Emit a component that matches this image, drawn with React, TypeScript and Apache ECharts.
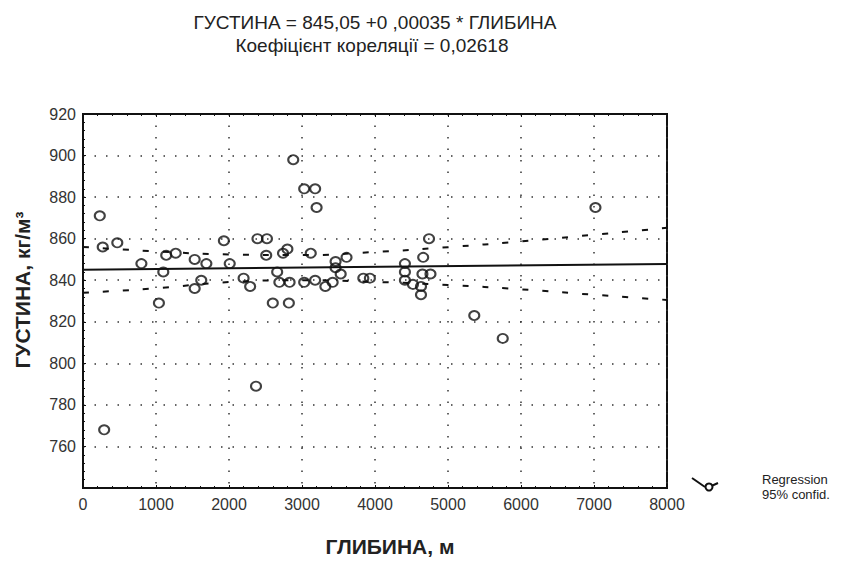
import React, { useEffect, useRef } from "react";
import * as echarts from "echarts";

const titleLine1 = "ГУСТИНА = 845,05 +0 ,00035 * ГЛИБИНА";
const titleLine2 = "Коефіцієнт кореляції = 0,02618";
const xAxisTitle = "ГЛИБИНА, м";
const yAxisTitle = "ГУСТИНА, кг/м³";
const legendLabels = ["Regression", "95% confid."];

// scatter observations: [depth (m), density (kg/m3)]
const observations: [number, number][] = [
  [230, 871], [270, 856], [470, 858], [290, 768], [800, 848],
  [1040, 829], [1100, 844], [1140, 852], [1270, 853], [1530, 850],
  [1530, 836], [1620, 840], [1690, 848], [1930, 859], [2010, 848],
  [2200, 841], [2290, 837], [2370, 789], [2390, 860], [2510, 852],
  [2520, 860], [2600, 829], [2660, 844], [2690, 839], [2740, 853],
  [2800, 855], [2820, 829], [2830, 839], [2880, 898], [3030, 884],
  [3030, 839], [3120, 853], [3180, 884], [3180, 840], [3200, 875],
  [3320, 837], [3420, 839], [3460, 849], [3460, 846], [3530, 843],
  [3610, 851], [3840, 841], [3930, 841], [4410, 848], [4410, 844],
  [4410, 840], [4520, 838], [4630, 837], [4630, 833], [4650, 843],
  [4660, 851], [4740, 860], [4760, 843], [5360, 823], [5750, 812],
  [7020, 875],
];

// regression line endpoints
const regression: [number, number][] = [[0, 845.05], [8000, 847.85]];

// 95% confidence band
const bandX = [0, 1000, 2000, 3000, 4000, 5000, 6000, 7000, 8000];
const bandUpper = [856, 853.9, 852.4, 852.1, 853.6, 855.9, 858.7, 861.9, 865.2];
const bandLower = [834, 836.1, 839.1, 840.0, 839.2, 837.7, 835.6, 833.0, 830.5];

const xTicks = { min: 0, max: 8000, interval: 1000 };
const yTicks = { min: 740, max: 920, interval: 20 };

export default function App() {
  const ref = useRef<HTMLDivElement>(null);
  useEffect(() => {
    if (!ref.current) return;
    const chart = echarts.init(ref.current, null, { renderer: "svg" });
    const font = "'Liberation Sans', Arial, sans-serif";
    const gridLine = { show: true, lineStyle: { color: "#333", width: 1.5, type: [1.5, 10] as any } };
    chart.setOption({
      animation: false,
      backgroundColor: "#fff",
      grid: { left: 83, right: 184, top: 114, bottom: 79, show: true, borderColor: "#111", borderWidth: 2, backgroundColor: "transparent" },
      xAxis: [
        {
          type: "value", ...xTicks, position: "bottom",
          axisLine: { show: true, lineStyle: { color: "#111", width: 2 } },
          axisTick: { show: true, inside: true, length: 3, lineStyle: { color: "#111" } },
          minorTick: { show: true, splitNumber: 5, length: 2, lineStyle: { color: "#111" } },
          axisLabel: { color: "#333", fontSize: 16, fontFamily: font, margin: 8, formatter: (v: number) => String(v) },
          splitLine: gridLine,
        },
        {
          type: "value", ...xTicks, position: "top",
          axisLine: { show: true, lineStyle: { color: "#111", width: 2 } },
          axisTick: { show: true, inside: true, length: 3, lineStyle: { color: "#111" } },
          minorTick: { show: true, splitNumber: 5, length: 2, lineStyle: { color: "#111" } },
          axisLabel: { show: false },
          splitLine: { show: false },
        },
      ],
      yAxis: [
        {
          type: "value", ...yTicks,
          axisLine: { show: true, lineStyle: { color: "#111", width: 2 } },
          axisTick: { show: true, inside: true, length: 3, lineStyle: { color: "#111" } },
          minorTick: { show: true, splitNumber: 5, length: 2, lineStyle: { color: "#111" } },
          axisLabel: {
            color: "#333", fontSize: 16, fontFamily: font, margin: 7,
            formatter: (v: number) => (v === 740 ? "" : String(v)),
          },
          splitLine: gridLine,
        },
      ],
      series: [
        {
          type: "line", data: regression, xAxisIndex: 0, yAxisIndex: 0,
          showSymbol: false, lineStyle: { color: "#111", width: 2 }, z: 3,
        },
        {
          type: "line", data: bandX.map((x, i) => [x, bandUpper[i]]),
          smooth: true, showSymbol: false,
          lineStyle: { color: "#111", width: 2, type: [6, 14] as any }, z: 3,
        },
        {
          type: "line", data: bandX.map((x, i) => [x, bandLower[i]]),
          smooth: true, showSymbol: false,
          lineStyle: { color: "#111", width: 2, type: [6, 14] as any }, z: 3,
        },
        {
          type: "scatter", data: observations, symbol: "circle", symbolSize: [10, 9],
          itemStyle: { color: "rgba(0,0,0,0)", borderColor: "#111", borderWidth: 2 }, z: 4,
        },
      ],
      graphic: [
        { type: "text", style: { text: titleLine1, x: 375, y: 22, align: "center", verticalAlign: "middle", fontSize: 19, fontFamily: font, fill: "#222" } },
        { type: "text", style: { text: titleLine2, x: 372, y: 45, align: "center", verticalAlign: "middle", fontSize: 19, fontFamily: font, fill: "#222" } },
        { type: "text", style: { text: xAxisTitle, x: 390, y: 546, align: "center", verticalAlign: "middle", fontSize: 21, fontWeight: "bold", fontFamily: font, fill: "#222" } },
        { type: "text", x: 22, y: 290, rotation: Math.PI / 2, style: { text: yAxisTitle, x: 0, y: 0, align: "center", verticalAlign: "middle", fontSize: 21, fontWeight: "bold", fontFamily: font, fill: "#222" } },
        { type: "polyline", shape: { points: [[692, 478], [705, 487]] }, style: { stroke: "#111", lineWidth: 2, fill: null } },
        { type: "circle", shape: { cx: 709, cy: 487, r: 3.5 }, style: { stroke: "#111", lineWidth: 2, fill: "#fff" } },
        { type: "polyline", shape: { points: [[712.5, 485.5], [718, 483]] }, style: { stroke: "#111", lineWidth: 2, fill: null } },
        { type: "text", style: { text: legendLabels[0], x: 762, y: 479, verticalAlign: "middle", fontSize: 13, fontFamily: font, fill: "#222" } },
        { type: "text", style: { text: legendLabels[1], x: 762, y: 494, verticalAlign: "middle", fontSize: 13, fontFamily: font, fill: "#222" } },
      ],
    });
    return () => chart.dispose();
  }, []);
  return <div ref={ref} style={{ position: "fixed", left: 0, top: 0, width: 851, height: 567 }} />;
}
